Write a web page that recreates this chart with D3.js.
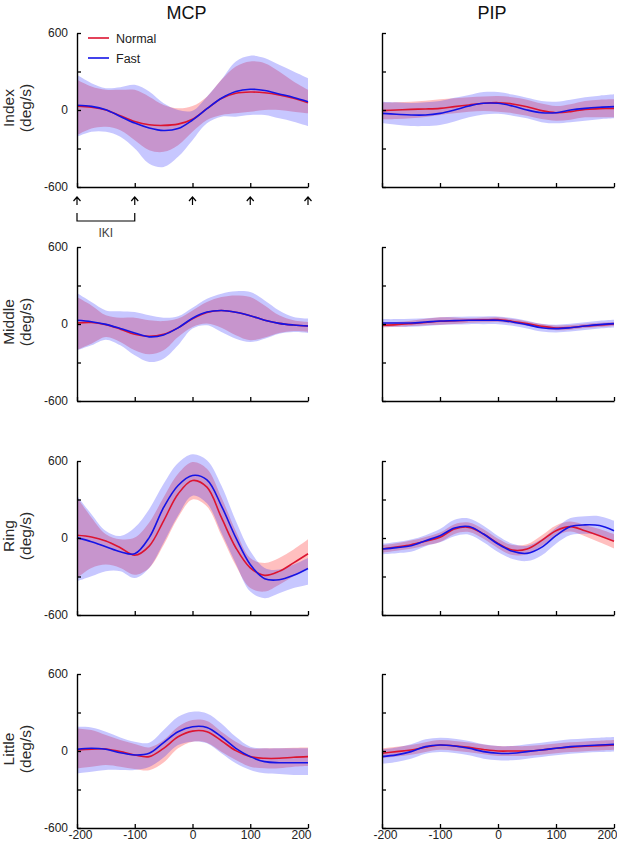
<!DOCTYPE html>
<html>
<head>
<meta charset="utf-8">
<script src="https://cdn.jsdelivr.net/npm/d3@7"></script>
<style>
  body { margin: 0; background: #fff; }
  text { font-family: "Liberation Sans", Arial, sans-serif; }
</style>
</head>
<body>
<div id="chart"></div>
<script>
// time (ms) relative to keystroke, one sample every 25 ms
const times = [-200, -175, -150, -125, -100, -75, -50, -25, 0, 25, 50, 75, 100, 125, 150, 175, 200]

const fingers = ['Index', 'Middle', 'Ring', 'Little']
const joints = ['MCP', 'PIP']
const seriesNames = ['Normal', 'Fast']
const yTicks = [-600, -300, 0, 300, 600]
const yTickLabels = ['-600', '', '0', '', '600']
const xTicks = [-200, -100, 0, 100, 200]
const xTickLabels = ['-200', '-100', '0', '100', '200']

// Index MCP
const indexMcpNormal   = [30, 22, 0, -45, -90, -115, -120, -110, -72, 10, 90, 130, 140, 135, 118, 92, 57]
const indexMcpNormalHi = [235, 183, 157, 157, 157, 104, 39, 13, 31, 104, 235, 339, 378, 365, 300, 222, 157]
const indexMcpNormalLo = [-196, -144, -130, -157, -235, -313, -326, -274, -170, -78, -39, -26, -13, 0, 0, -13, -26]
const indexMcpFast     = [37, 28, 2, -50, -102, -140, -160, -145, -78, 10, 92, 145, 162, 152, 125, 98, 65]
const indexMcpFastHi   = [274, 209, 170, 178, 196, 144, 52, 0, -5, 104, 235, 378, 423, 405, 352, 300, 248]
const indexMcpFastLo   = [-209, -170, -170, -209, -300, -418, -444, -365, -235, -104, -52, -52, -39, -39, -65, -91, -125]

// Index PIP
const indexPipNormal   = [-5, 0, 5, 8, 13, 26, 39, 52, 57, 47, 26, -5, -21, -13, 5, 10, 13]
const indexPipNormalHi = [57, 60, 65, 72, 83, 92, 99, 105, 109, 100, 80, 50, 31, 45, 70, 80, 83]
const indexPipNormalLo = [-73, -70, -65, -55, -39, -25, -13, -8, -13, -25, -45, -70, -83, -75, -57, -57, -57]
const indexPipFast     = [-26, -33, -39, -39, -26, 0, 31, 52, 52, 31, 0, -21, -21, 0, 13, 21, 26]
const indexPipFastHi   = [65, 60, 55, 60, 70, 95, 117, 140, 140, 120, 95, 70, 65, 80, 100, 112, 122]
const indexPipFastLo   = [-104, -115, -125, -125, -117, -90, -57, -35, -30, -45, -65, -95, -104, -95, -83, -72, -65]

// Middle MCP
const middleMcpNormal   = [8, 12, -5, -40, -80, -96, -80, -30, 40, 90, 105, 92, 65, 30, 5, -8, -16]
const middleMcpNormalHi = [210, 145, 68, 49, 49, 29, 23, 42, 106, 171, 210, 223, 210, 145, 68, 29, 16]
const middleMcpNormalLo = [-200, -153, -101, -140, -205, -236, -205, -101, -23, 3, -29, -88, -127, -106, -70, -55, -62]
const middleMcpFast     = [29, 18, -3, -35, -70, -100, -85, -30, 45, 93, 105, 92, 65, 30, 5, -8, -16]
const middleMcpFastHi   = [241, 171, 106, 99, 93, 68, 49, 60, 127, 197, 236, 255, 249, 184, 106, 55, 42]
const middleMcpFastLo   = [-205, -166, -122, -166, -244, -296, -270, -166, -36, -10, -62, -114, -140, -114, -75, -62, -70]

// Middle PIP
const middlePipNormal   = [-10, -5, 3, 12, 21, 25, 29, 32, 34, 20, 3, -18, -31, -27, -16, -8, 0]
const middlePipNormalHi = [10, 15, 25, 40, 52, 50, 45, 50, 52, 38, 20, 0, -12, -8, 2, 10, 16]
const middlePipNormalLo = [-28, -22, -16, -10, -5, 0, 10, 14, 16, 4, -14, -34, -48, -44, -32, -24, -16]
const middlePipFast     = [8, 8, 8, 15, 23, 26, 29, 29, 29, 16, -5, -29, -36, -29, -16, -5, 3]
const middlePipFastHi   = [38, 38, 40, 45, 52, 56, 59, 59, 59, 46, 25, 1, -6, 1, 14, 25, 33]
const middlePipFastLo   = [-22, -22, -22, -15, -7, -4, -1, -1, -1, -14, -35, -59, -66, -59, -46, -35, -27]

// Ring MCP
const ringMcpNormal   = [21, 8, -24, -76, -134, -63, 134, 343, 448, 396, 160, -76, -233, -291, -260, -194, -123]
const ringMcpNormalHi = [317, 160, 29, -10, 3, 121, 317, 500, 592, 540, 317, 55, -155, -194, -155, -89, -10]
const ringMcpNormalLo = [-312, -233, -207, -233, -286, -233, -55, 160, 300, 245, 20, -215, -390, -417, -364, -299, -233]
const ringMcpFast     = [3, -29, -68, -107, -123, 3, 238, 409, 487, 453, 251, 3, -207, -317, -325, -291, -238]
const ringMcpFastHi   = [330, 186, 55, 16, 81, 225, 422, 584, 652, 605, 409, 134, -102, -233, -246, -207, -155]
const ringMcpFastLo   = [-338, -299, -259, -259, -312, -233, -37, 175, 330, 270, 40, -200, -417, -469, -430, -390, -364]

// Ring PIP
const ringPipNormal   = [-86, -70, -52, -25, 5, 70, 83, 31, -42, -94, -86, -21, 57, 89, 57, 18, -26]
const ringPipNormalHi = [-56, -40, -20, 8, 42, 108, 120, 68, -5, -55, -48, 20, 98, 128, 100, 70, 30]
const ringPipNormalLo = [-116, -100, -84, -58, -32, 32, 46, -6, -79, -133, -124, -62, 16, 50, 14, -34, -82]
const ringPipFast     = [-86, -75, -60, -21, 18, 78, 89, 31, -47, -104, -120, -73, 18, 89, 102, 97, 57]
const ringPipFastHi   = [-46, -32, -12, 22, 70, 142, 152, 95, 15, -45, -60, -10, 80, 155, 170, 170, 135]
const ringPipFastLo   = [-126, -118, -108, -64, -34, 14, 26, -33, -109, -163, -180, -136, -44, 23, 34, 24, -21]

// Little MCP
const littleMcpNormal   = [8, 14, 16, -5, -31, -44, 21, 111, 155, 150, 80, 3, -44, -57, -57, -49, -44]
const littleMcpNormalHi = [176, 163, 124, 85, 54, 28, 85, 189, 241, 233, 150, 73, 21, 21, 21, 26, 28]
const littleMcpNormalLo = [-135, -122, -109, -122, -140, -150, -90, 21, 73, 65, -5, -70, -122, -135, -135, -122, -117]
const littleMcpFast     = [13, 21, 13, -13, -31, -18, 65, 150, 189, 184, 111, 21, -44, -83, -91, -91, -91]
const littleMcpFastHi   = [189, 184, 150, 106, 73, 65, 163, 267, 306, 293, 215, 111, 34, 21, 21, 21, 21]
const littleMcpFastLo   = [-174, -161, -148, -148, -148, -125, -50, 47, 73, 60, -18, -96, -148, -174, -179, -187, -187]

// Little PIP
const littlePipNormal   = [-18, -5, 8, 30, 47, 40, 28, 12, 0, 0, 0, 8, 21, 30, 37, 42, 47]
const littlePipNormalHi = [20, 33, 46, 68, 85, 78, 66, 50, 38, 38, 38, 46, 59, 68, 75, 80, 85]
const littlePipNormalLo = [-56, -43, -30, -8, 9, 2, -10, -26, -38, -38, -38, -30, -17, -8, -1, 4, 9]
const littlePipFast     = [-44, -30, -5, 34, 47, 39, 21, -5, -18, -18, -5, 8, 21, 34, 41, 47, 52]
const littlePipFastHi   = [13, 27, 52, 91, 104, 96, 78, 52, 39, 39, 52, 65, 78, 91, 98, 104, 109]
const littlePipFastLo   = [-99, -85, -60, -21, -8, -16, -34, -60, -73, -73, -60, -47, -34, -21, -14, -8, -3]

// finger -> joint -> [normal, fast], each {mean, hi, lo}
const table = {
  Index: {
    MCP: [{mean: indexMcpNormal, hi: indexMcpNormalHi, lo: indexMcpNormalLo}, {mean: indexMcpFast, hi: indexMcpFastHi, lo: indexMcpFastLo}],
    PIP: [{mean: indexPipNormal, hi: indexPipNormalHi, lo: indexPipNormalLo}, {mean: indexPipFast, hi: indexPipFastHi, lo: indexPipFastLo}]
  },
  Middle: {
    MCP: [{mean: middleMcpNormal, hi: middleMcpNormalHi, lo: middleMcpNormalLo}, {mean: middleMcpFast, hi: middleMcpFastHi, lo: middleMcpFastLo}],
    PIP: [{mean: middlePipNormal, hi: middlePipNormalHi, lo: middlePipNormalLo}, {mean: middlePipFast, hi: middlePipFastHi, lo: middlePipFastLo}]
  },
  Ring: {
    MCP: [{mean: ringMcpNormal, hi: ringMcpNormalHi, lo: ringMcpNormalLo}, {mean: ringMcpFast, hi: ringMcpFastHi, lo: ringMcpFastLo}],
    PIP: [{mean: ringPipNormal, hi: ringPipNormalHi, lo: ringPipNormalLo}, {mean: ringPipFast, hi: ringPipFastHi, lo: ringPipFastLo}]
  },
  Little: {
    MCP: [{mean: littleMcpNormal, hi: littleMcpNormalHi, lo: littleMcpNormalLo}, {mean: littleMcpFast, hi: littleMcpFastHi, lo: littleMcpFastLo}],
    PIP: [{mean: littlePipNormal, hi: littlePipNormalHi, lo: littlePipNormalLo}, {mean: littlePipFast, hi: littlePipFastHi, lo: littlePipFastLo}]
  }
}

const lineColors = ['#dc1430', '#1414e6']
const bandColors = ['rgba(255,0,0,0.25)', 'rgba(0,0,255,0.22)']

const width = 617
const height = 851
const colLeft = [77, 382]
const colWidth = [231, 232]
const rowTop = [33, 247, 461, 674]
const rowHeight = 154

const svg = d3.select('#chart')
  .append('svg')
  .attr('width', width)
  .attr('height', height)

fingers.forEach((finger, r) => {
  joints.forEach((joint, c) => {
    const x = d3.scaleLinear().domain([-200, 200]).range([0, colWidth[c]])
    const y = d3.scaleLinear().domain([-600, 600]).range([rowHeight, 0])
    const g = svg.append('g').attr('transform', `translate(${colLeft[c]},${rowTop[r]})`)

    const area = d3.area()
      .x(d => x(d.t))
      .y0(d => y(d.lo))
      .y1(d => y(d.hi))
      .curve(d3.curveCatmullRom)
    const line = d3.line()
      .x(d => x(d.t))
      .y(d => y(d.v))
      .curve(d3.curveCatmullRom)

    const series = table[finger][joint]

    // bands first, then mean lines
    series.forEach((s, k) => {
      g.append('path')
        .datum(times.map((t, i) => ({t, lo: s.lo[i], hi: s.hi[i]})))
        .attr('d', area)
        .attr('fill', bandColors[k])
    })
    series.forEach((s, k) => {
      g.append('path')
        .datum(times.map((t, i) => ({t, v: s.mean[i]})))
        .attr('d', line)
        .attr('fill', 'none')
        .attr('stroke', lineColors[k])
        .attr('stroke-width', 1.6)
    })

    // axes
    const yAxis = g.append('g')
      .call(d3.axisLeft(y)
        .tickValues(yTicks)
        .tickSizeInner(-4)
        .tickSizeOuter(0)
        .tickPadding(9)
        .tickFormat((v, i) => c === 0 ? yTickLabels[i] : ''))
    const xAxis = g.append('g')
      .attr('transform', `translate(0,${rowHeight})`)
      .call(d3.axisBottom(x)
        .tickValues(xTicks)
        .tickSizeInner(-4)
        .tickSizeOuter(0)
        .tickPadding(2)
        .tickFormat((v, i) => r === fingers.length - 1 ? xTickLabels[i] : ''))

    ;[yAxis, xAxis].forEach(a => {
      a.select('.domain').attr('stroke', '#000').attr('stroke-width', 1.4)
      a.selectAll('.tick line').attr('stroke', '#000').attr('stroke-width', 1.3)
      a.selectAll('text')
        .attr('font-family', '"Liberation Sans", Arial, sans-serif')
        .attr('font-size', 12)
        .attr('fill', '#222')
    })
    // keep the outermost labels inside the panel edge
    xAxis.selectAll('.tick text')
      .attr('dx', v => v === 200 ? -7 : (v === -200 ? 3 : 0))

    // row label
    if (c === 0) {
      const cy = rowTop[r] + 75
      svg.append('text')
        .attr('transform', `translate(14,${cy}) rotate(-90)`)
        .attr('text-anchor', 'middle')
        .attr('font-size', 15.5)
        .attr('fill', '#2a2a2a')
        .text(finger)
      svg.append('text')
        .attr('transform', `translate(31,${cy}) rotate(-90)`)
        .attr('text-anchor', 'middle')
        .attr('font-size', 15.5)
        .attr('fill', '#2a2a2a')
        .text('(deg/s)')
    }

    // column title
    if (r === 0) {
      svg.append('text')
        .attr('x', colLeft[c] + colWidth[c] / 2 - 6)
        .attr('y', 19)
        .attr('text-anchor', 'middle')
        .attr('font-size', 18)
        .attr('fill', '#111')
        .text(joint)
    }

    // keystroke arrows and IKI bracket under Index MCP
    if (r === 0 && c === 0) {
      const ay = rowHeight + 10
      xTicks.forEach(t => {
        g.append('path')
          .attr('d', `M${x(t)},${ay} V${ay + 8} M${x(t) - 3.5},${ay + 4} L${x(t)},${ay} L${x(t) + 3.5},${ay + 4}`)
          .attr('fill', 'none')
          .attr('stroke', '#000')
          .attr('stroke-width', 1.2)
      })
      const by = rowHeight + 34
      g.append('path')
        .attr('d', `M${x(-200)},${by - 8} V${by} H${x(-100)} V${by - 8}`)
        .attr('fill', 'none')
        .attr('stroke', '#000')
        .attr('stroke-width', 1.2)
      g.append('text')
        .attr('x', (x(-200) + x(-100)) / 2)
        .attr('y', by + 16)
        .attr('text-anchor', 'middle')
        .attr('font-size', 12)
        .attr('fill', '#444')
        .text('IKI')

      // legend
      seriesNames.forEach((name, k) => {
        const ly = 5 + k * 20
        g.append('line')
          .attr('x1', 11).attr('x2', 32)
          .attr('y1', ly).attr('y2', ly)
          .attr('stroke', lineColors[k])
          .attr('stroke-width', 1.6)
        g.append('text')
          .attr('x', 39)
          .attr('y', ly + 4.5)
          .attr('font-size', 12.5)
          .attr('fill', '#222')
          .text(name)
      })
    }
  })
})
</script>
</body>
</html>
